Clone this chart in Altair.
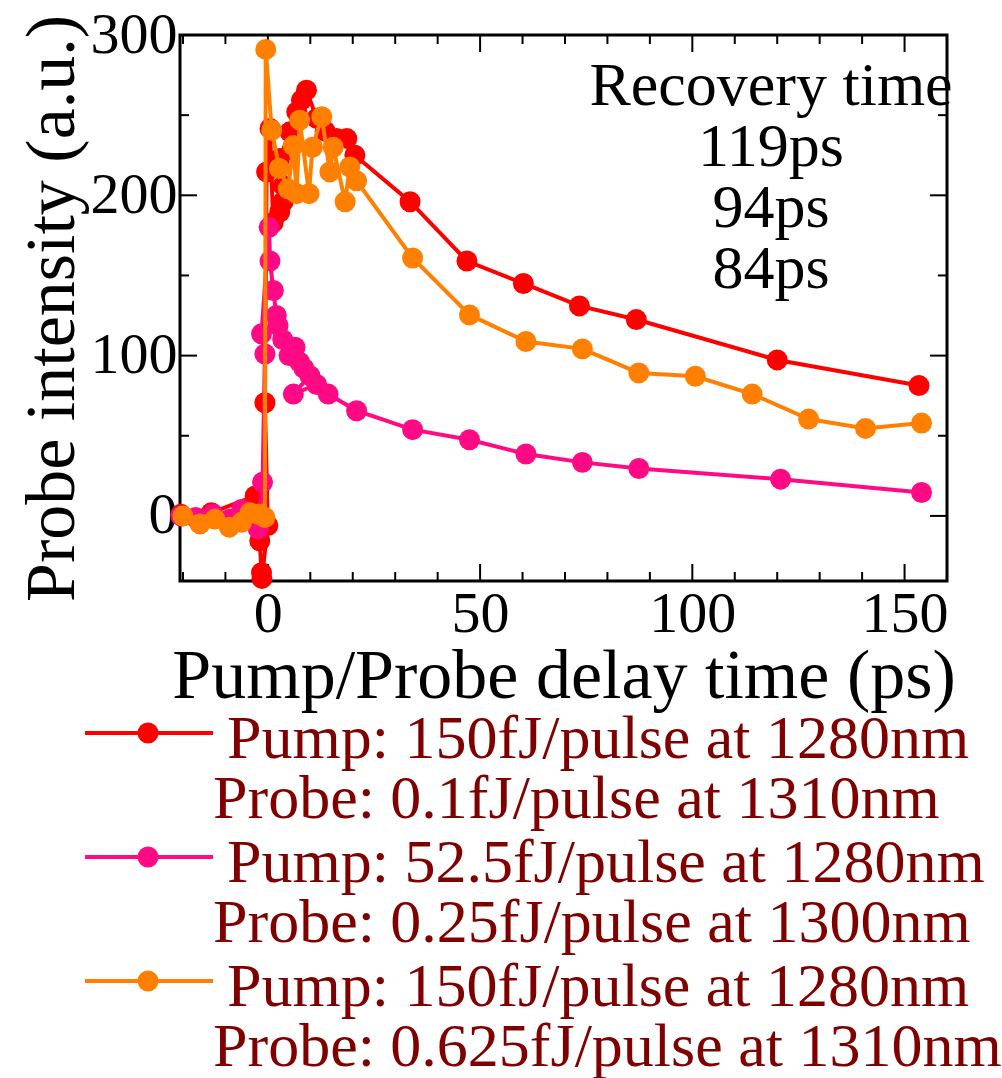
import altair as alt
import pandas as pd

FONT = "Liberation Serif"

# ---- measured series (delay time in ps, probe intensity in a.u.) ----
red_t = [-20.5, -13.3, -3.0, -1.9, -1.5, -1.4, 0.0, -0.7, -0.3, 0.5, 1.25, 2.8, 3.6, 3.6,
         2.8, 5.2, 6.8, 7.9, 9.1, 11.5, 13.5, 16.2, 18.6, 20.5, 33.5, 46.9, 60.2, 73.4,
         86.8, 120.0, 153.4]
red_v = [1, 2, 12.5, -15.6, -35.4, -39, -6, 70.6, 214.6, 241.7, 183, 189.6, 196, 206,
         223, 239.6, 252, 259.4, 265.6, 248, 240, 235.4, 235.4, 225, 196, 159, 145, 131,
         122.5, 97.3, 81.3]

pink_t = [-20.5, -17.0, -13.0, -9.0, -6.2, -4.0, -2.3, -1.25, -0.7, -1.5, 0.3, 0.5, 1.3,
          2.0, 2.4, 3.5, 5.0, 6.4, 7.5, 8.5, 9.9, 6.0, 11.5, 14.2, 20.9, 34.1, 47.5, 60.8,
          74.1, 87.4, 120.8, 154.0]
pink_v = [0, -1, 1, -2, 4, 0, -8, 21, 101, 113.6, 180, 159, 140.6, 125, 118.8, 110, 100,
          105.2, 95.9, 92, 87.5, 76, 82, 76, 65.6, 53.8, 47.5, 38.6, 33.4, 29.6, 22.9, 14.6]

orange_t = [-20.0, -16.0, -12.5, -9.1, -6.2, -4.2, -2.3, -0.7, -0.5, 0.9, 2.7, 4.8, 6.0,
            6.8, 7.5, 9.7, 10.5, 12.7, 14.6, 15.4, 18.2, 19.3, 20.9, 34.1, 47.5, 60.8,
            74.1, 87.4, 100.7, 114.1, 127.4, 140.8, 154.0]
orange_v = [0, -5, -2, -7, -4, 2, 1, -1, 291, 240.6, 216.7, 204, 231, 201, 246.9, 201, 230,
            249, 214.6, 230, 196, 217.7, 209, 160.9, 125.4, 108.8, 104.2, 89.2, 87.1, 76,
            60.4, 54.6, 57.9]

series_colors = ["#ff0000", "#ff0a84", "#ff8000"]
pump_labels = ["Pump: 150fJ/pulse at 1280nm",
               "Pump: 52.5fJ/pulse at 1280nm",
               "Pump: 150fJ/pulse at 1280nm"]
probe_labels = ["Probe: 0.1fJ/pulse at 1310nm",
                "Probe: 0.25fJ/pulse at 1300nm",
                "Probe: 0.625fJ/pulse at 1310nm"]
recovery_lines = ["Recovery time", "119ps", "94ps", "84ps"]

x_major = [0, 50, 100, 150]
x_minor = [-20, -10, 10, 20, 30, 40, 60, 70, 80, 90, 110, 120, 130, 140]
y_major = [0, 100, 200, 300]
y_minor = [50, 150, 250]

W, H = 767, 546
TICK_MAJ, TICK_MIN = 17, 9
MARK_SIZE = 440

xscale = alt.Scale(domain=[-20.7, 160], nice=False, zero=False)
yscale = alt.Scale(domain=[-40.6, 300], nice=False, zero=False)

xaxis = alt.Axis(values=x_major, ticks=False, domain=False, grid=False,
                 labelFont=FONT, labelFontSize=58, labelColor="black", labelPadding=4,
                 labelOverlap=False, labelFlush=False,
                 title="Pump/Probe delay time (ps)", titleFont=FONT, titleFontSize=70,
                 titleFontWeight="normal", titleColor="black", titlePadding=-1)
yaxis = alt.Axis(values=y_major, ticks=False, domain=False, grid=False,
                 labelFont=FONT, labelFontSize=58, labelColor="black", labelPadding=3,
                 labelOverlap=False, labelFlush=False,
                 title="Probe intensity (a.u.)", titleFont=FONT, titleFontSize=70,
                 titleFontWeight="normal", titleColor="black", titlePadding=2)

X = lambda f: alt.X(f, type="quantitative", scale=xscale, axis=xaxis)
Y = lambda f: alt.Y(f, type="quantitative", scale=yscale, axis=yaxis)

layers = []

# inward tick marks on all four sides of the frame
for vals, ln in [(x_major, TICK_MAJ), (x_minor, TICK_MIN)]:
    d = pd.DataFrame({"t": vals})
    layers.append(alt.Chart(d).mark_rule(color="black", strokeWidth=2).encode(
        x=X("t"), y=alt.value(H), y2=alt.value(H - ln)))
    layers.append(alt.Chart(d).mark_rule(color="black", strokeWidth=2).encode(
        x=X("t"), y=alt.value(0), y2=alt.value(ln)))
for vals, ln in [(y_major, TICK_MAJ), (y_minor, TICK_MIN)]:
    d = pd.DataFrame({"v": vals})
    layers.append(alt.Chart(d).mark_rule(color="black", strokeWidth=2).encode(
        y=Y("v"), x=alt.value(0), x2=alt.value(ln)))
    layers.append(alt.Chart(d).mark_rule(color="black", strokeWidth=2).encode(
        y=Y("v"), x=alt.value(W), x2=alt.value(W - ln)))

# data series: line then markers, one series after another
all_series = [(red_t, red_v), (pink_t, pink_v), (orange_t, orange_v)]
for (ts, vs), col in zip(all_series, series_colors):
    d = pd.DataFrame({"t": ts, "v": vs, "idx": list(range(len(ts)))})
    layers.append(alt.Chart(d).mark_line(color=col, strokeWidth=4).encode(
        x=X("t"), y=Y("v"), order=alt.Order("idx:Q")))
    layers.append(alt.Chart(d).mark_circle(color=col, size=MARK_SIZE, opacity=1).encode(
        x=X("t"), y=Y("v")))

# recovery-time annotation
ann = pd.DataFrame({"label": ["\n".join(recovery_lines)]})
layers.append(alt.Chart(ann).mark_text(
    font=FONT, fontSize=62, color="black", align="center", baseline="alphabetic",
    lineBreak="\n", lineHeight=61).encode(
    x=alt.value(591), y=alt.value(70), text="label:N"))

# legend drawn below the axis title
for i, col in enumerate(series_colors):
    y0 = 698 + 124 * i
    d = pd.DataFrame({"pump": [pump_labels[i]], "probe": [probe_labels[i]]})
    base = alt.Chart(d)
    layers.append(base.mark_rule(color=col, strokeWidth=4).encode(
        x=alt.value(-95), x2=alt.value(33), y=alt.value(y0)))
    layers.append(base.mark_circle(color=col, size=MARK_SIZE, opacity=1).encode(
        x=alt.value(-32), y=alt.value(y0)))
    layers.append(base.mark_text(font=FONT, fontSize=62, color="#800000", align="left",
                                 baseline="alphabetic").encode(
        x=alt.value(47), y=alt.value(723 + 124 * i), text="pump:N"))
    layers.append(base.mark_text(font=FONT, fontSize=62, color="#800000", align="left",
                                 baseline="alphabetic").encode(
        x=alt.value(33), y=alt.value(783 + 124 * i), text="probe:N"))

chart = alt.layer(*layers).properties(
    width=W, height=H,
    autosize=alt.AutoSizeParams(type="none"),
    padding={"left": 180, "top": 35, "right": 1002 - 180 - W, "bottom": 1078 - 35 - H},
    background="white",
).configure_view(stroke="black", strokeWidth=3).configure_axis(labelFont=FONT, titleFont=FONT)

chart.save("out.html", embed_options={"renderer": "svg", "actions": False})
